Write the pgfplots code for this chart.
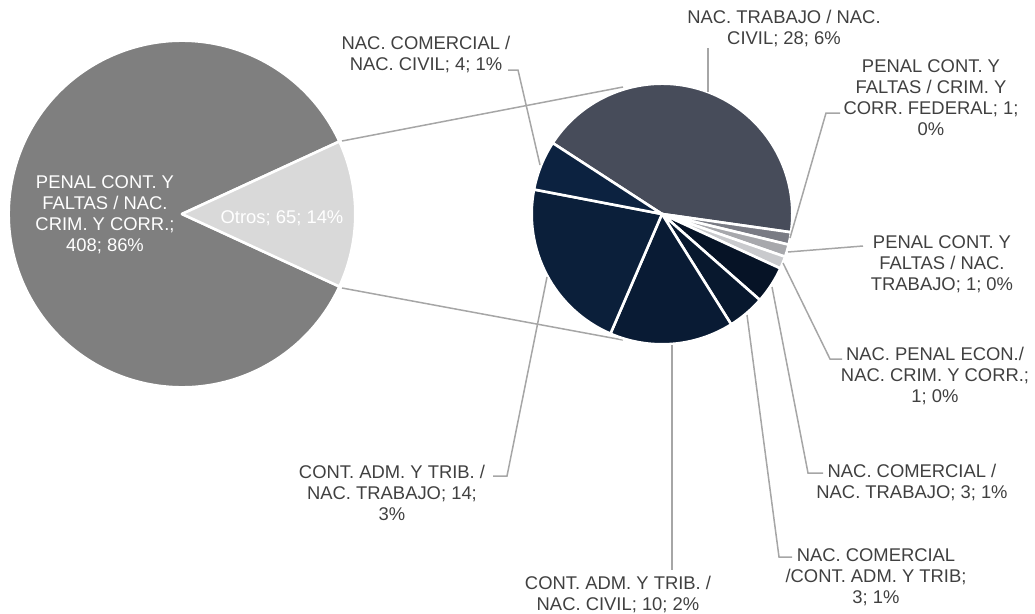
\documentclass[border=0pt]{standalone}
\usepackage{fontspec}
\setmainfont{Liberation Sans}
\usepackage{pgfplots}
\pgfplotsset{compat=1.18}
\definecolor{lab}{HTML}{404040}
\definecolor{lead}{HTML}{A6A6A6}
\definecolor{lmain}{HTML}{7F7F7F}
\definecolor{lotros}{HTML}{D9D9D9}
\definecolor{r1}{HTML}{474C5A}
\definecolor{r2}{HTML}{797B84}
\definecolor{r3}{HTML}{A7A8AC}
\definecolor{r4}{HTML}{C9CACD}
\definecolor{r5}{HTML}{061326}
\definecolor{r6}{HTML}{08182E}
\definecolor{r7}{HTML}{091B34}
\definecolor{r8}{HTML}{0B1F3A}
\definecolor{r9}{HTML}{0C2240}
\tikzset{
  lbl/.style={align=center, text=lab, inner sep=0pt,
    font=\fontsize{18.4}{21}\selectfont},
  ld/.style={draw=lead, line width=1.5pt},
}

% data of the second pie (Otros = 65), clockwise from the start angle
\gdef\cum{0}
\foreach \v [count=\i] in {28,1,1,1,3,3,10,14,4}{%
  \pgfmathsetmacro\sa{147-\cum/65*360}%
  \pgfmathsetmacro\newcum{\cum+\v}%
  \pgfmathsetmacro\ea{147-\newcum/65*360}%
  \expandafter\xdef\csname rs\i\endcsname{\sa}%
  \expandafter\xdef\csname re\i\endcsname{\ea}%
  \xdef\cum{\newcum}%
}
% first pie: 408 and Otros 65
\pgfmathsetmacro\oh{65/(408+65)*360/2}
\xdef\oh{\oh}

\newcommand{\pieslice}[6]{%
  \filldraw[fill=#1, draw=white, line width=2.6pt, line join=round]
   (#2,#3) -- ++(#5:#4pt) arc[start angle=#5, end angle=#6, radius=#4pt] -- cycle;}

\begin{document}
\begin{tikzpicture}
\begin{axis}[
  scale only axis, width=1035pt, height=613pt,
  xmin=0, xmax=1035, ymin=0, ymax=613, y dir=reverse,
  enlargelimits=false, hide axis, clip=false,
]
\coordinate (bbA) at (0,613);
\coordinate (bbB) at (1035,0);
% connector lines
\draw[ld] (342,141) -- (623,87);
\draw[ld] (342,288) -- (623,340);
% first pie
\pieslice{lmain}{182}{214}{173.3}{\oh}{360-\oh}
\pieslice{lotros}{182}{214}{173.3}{-\oh}{\oh}
% second pie
\pieslice{r1}{662}{214}{130.3}{\csname rs1\endcsname}{\csname re1\endcsname}
\pieslice{r2}{662}{214}{130.3}{\csname rs2\endcsname}{\csname re2\endcsname}
\pieslice{r3}{662}{214}{130.3}{\csname rs3\endcsname}{\csname re3\endcsname}
\pieslice{r4}{662}{214}{130.3}{\csname rs4\endcsname}{\csname re4\endcsname}
\pieslice{r5}{662}{214}{130.3}{\csname rs5\endcsname}{\csname re5\endcsname}
\pieslice{r6}{662}{214}{130.3}{\csname rs6\endcsname}{\csname re6\endcsname}
\pieslice{r7}{662}{214}{130.3}{\csname rs7\endcsname}{\csname re7\endcsname}
\pieslice{r8}{662}{214}{130.3}{\csname rs8\endcsname}{\csname re8\endcsname}
\pieslice{r9}{662}{214}{130.3}{\csname rs9\endcsname}{\csname re9\endcsname}
% leader lines
\draw[ld] (708,48) -- (708,92);
\draw[ld] (840,113) -- (826,113) -- (790,238);
\draw[ld] (788,252) -- (863,246);
\draw[ld] (783,263) -- (830,359) -- (842,359);
\draw[ld] (772,287) -- (808,473) -- (823,473);
\draw[ld] (747,315) -- (779,557) -- (792,557);
\draw[ld] (672,345) -- (672,570);
\draw[ld] (547,277) -- (507,476) -- (493,476);
\draw[ld] (540,165) -- (518,70) -- (508,70);
% labels
\node[lbl, text=white] at (105,215.9) {\strut PENAL CONT. Y\\FALTAS / NAC.\\CRIM. Y CORR.;\\408; 86\%\strut};
\node[lbl, text=white] at (282,219.4) {\strut Otros; 65; 14\%\strut};
\node[lbl] at (784,29.9) {\strut NAC. TRABAJO / NAC.\\CIVIL; 28; 6\%\strut};
\node[lbl] at (931,99.4) {\strut PENAL CONT. Y\\FALTAS / CRIM. Y\\CORR. FEDERAL; 1;\\0\%\strut};
\node[lbl] at (942,264.9) {\strut PENAL CONT. Y\\FALTAS / NAC.\\TRABAJO; 1; 0\%\strut};
\node[lbl] at (935,377.4) {\strut NAC. PENAL ECON./\\NAC. CRIM. Y CORR.;\\1; 0\%\strut};
\node[lbl] at (912,483.4) {\strut NAC. COMERCIAL /\\NAC. TRABAJO; 3; 1\%\strut};
\node[lbl] at (876,578.4) {\strut NAC. COMERCIAL\\/CONT. ADM. Y TRIB;\\3; 1\%\strut};
\node[lbl] at (618,595.4) {\strut CONT. ADM. Y TRIB. /\\NAC. CIVIL; 10; 2\%\strut};
\node[lbl] at (392,494.9) {\strut CONT. ADM. Y TRIB. /\\NAC. TRABAJO; 14;\\3\%\strut};
\node[lbl] at (426,55.9) {\strut NAC. COMERCIAL /\\NAC. CIVIL; 4; 1\%\strut};
\end{axis}
\pgfresetboundingbox
\useasboundingbox (bbA) rectangle (bbB);
\end{tikzpicture}
\end{document}
